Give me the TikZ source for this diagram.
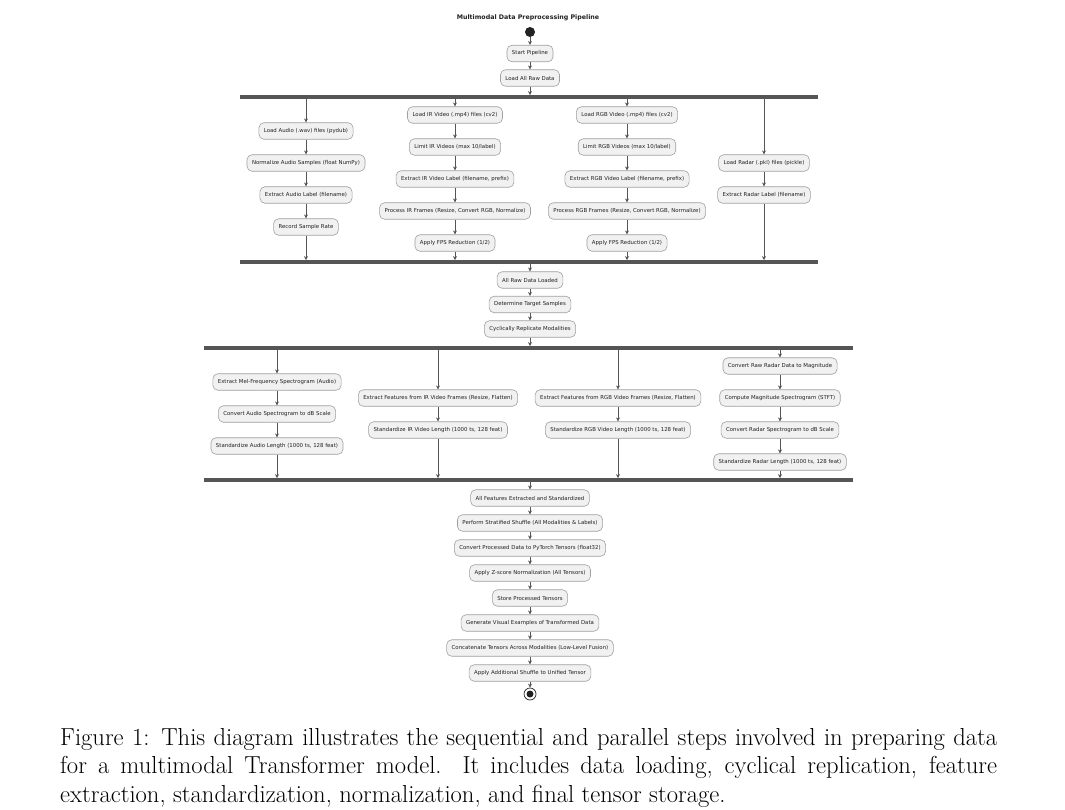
\documentclass[tikz,border=0pt]{standalone}
\usepackage{fontspec}
\newfontfamily\djsans{DejaVu Sans}
\usetikzlibrary{arrows.meta}
\definecolor{boxfill}{HTML}{F1F1F1}
\definecolor{boxline}{HTML}{A0A0A0}
\definecolor{linec}{HTML}{555555}
\definecolor{barc}{HTML}{555555}
\definecolor{txt}{HTML}{222222}
\definecolor{startc}{HTML}{222222}
\begin{document}
\begin{tikzpicture}[x=1pt,y=-1pt,
  box/.style={draw=boxline, fill=boxfill, line width=0.6pt, rounded corners=5pt, minimum height=16.5pt, inner xsep=5pt, inner ysep=2pt, font=\djsans\fontsize{5.4}{6.5}\selectfont, text=txt},
  bar/.style={fill=barc, draw=none, minimum height=3.5pt, inner sep=0pt},
  arr/.style={draw=linec, line width=0.6pt, -{Stealth[length=4pt,width=4pt]}},
  ln/.style={draw=linec, line width=0.6pt}]
\useasboundingbox (0,0) rectangle (1065,810);
\fill[white] (0,0) rectangle (1065,810);

\node[font=\djsans\bfseries\fontsize{6.3}{7.5}\selectfont, text=txt] (title) at (528,18) {Multimodal Data Preprocessing Pipeline};
\node[circle, fill=startc, minimum size=10pt, inner sep=0pt] (start) at (530,32) {};
\node[box] (s1) at (530,53.5) {Start Pipeline};
\node[box] (s2) at (530,78) {Load All Raw Data};
\node[bar, minimum width=578pt] (f1) at (529,97) {};

% first fork
\node[box] (a1) at (306,131) {Load Audio (.wav) files (pydub)};
\node[box] (a2) at (306,163) {Normalize Audio Samples (float NumPy)};
\node[box] (a3) at (306,195) {Extract Audio Label (filename)};
\node[box] (a4) at (306,227) {Record Sample Rate};

\node[box] (i1) at (455,115) {Load IR Video (.mp4) files (cv2)};
\node[box] (i2) at (455,147) {Limit IR Videos (max 10/label)};
\node[box] (i3) at (455,179) {Extract IR Video Label (filename, prefix)};
\node[box] (i4) at (455,211) {Process IR Frames (Resize, Convert RGB, Normalize)};
\node[box] (i5) at (455,243) {Apply FPS Reduction (1/2)};

\node[box] (r1) at (627,115) {Load RGB Video (.mp4) files (cv2)};
\node[box] (r2) at (627,147) {Limit RGB Videos (max 10/label)};
\node[box] (r3) at (627,179) {Extract RGB Video Label (filename, prefix)};
\node[box] (r4) at (627,211) {Process RGB Frames (Resize, Convert RGB, Normalize)};
\node[box] (r5) at (627,243) {Apply FPS Reduction (1/2)};

\node[box] (d1) at (764,163) {Load Radar (.pkl) files (pickle)};
\node[box] (d2) at (764,195) {Extract Radar Label (filename)};

\node[bar, minimum width=578pt] (j1) at (529,262) {};

\node[box] (m1) at (530,280) {All Raw Data Loaded};
\node[box] (m2) at (530,304.5) {Determine Target Samples};
\node[box] (m3) at (530,329) {Cyclically Replicate Modalities};

\node[bar, minimum width=649pt] (f2) at (528.5,348) {};

% second fork
\node[box] (b1) at (277,382) {Extract Mel-Frequency Spectrogram (Audio)};
\node[box] (b2) at (277,414) {Convert Audio Spectrogram to dB Scale};
\node[box] (b3) at (277,446) {Standardize Audio Length (1000 ts, 128 feat)};

\node[box] (c1) at (438,398) {Extract Features from IR Video Frames (Resize, Flatten)};
\node[box] (c2) at (438,430) {Standardize IR Video Length (1000 ts, 128 feat)};

\node[box] (e1) at (618,398) {Extract Features from RGB Video Frames (Resize, Flatten)};
\node[box] (e2) at (618,430) {Standardize RGB Video Length (1000 ts, 128 feat)};

\node[box] (g1) at (780,366) {Convert Raw Radar Data to Magnitude};
\node[box] (g2) at (780,398) {Compute Magnitude Spectrogram (STFT)};
\node[box] (g3) at (780,430) {Convert Radar Spectrogram to dB Scale};
\node[box] (g4) at (780,462) {Standardize Radar Length (1000 ts, 128 feat)};

\node[bar, minimum width=649pt] (j2) at (528.5,480) {};

\node[box] (n1) at (530,498) {All Features Extracted and Standardized};
\node[box] (n2) at (530,523) {Perform Stratified Shuffle (All Modalities \& Labels)};
\node[box] (n3) at (530,548) {Convert Processed Data to PyTorch Tensors (float32)};
\node[box] (n4) at (530,573) {Apply Z-score Normalization (All Tensors)};
\node[box] (n5) at (530,598) {Store Processed Tensors};
\node[box] (n6) at (530,623) {Generate Visual Examples of Transformed Data};
\node[box] (n7) at (530,648) {Concatenate Tensors Across Modalities (Low-Level Fusion)};
\node[box] (n8) at (530,673) {Apply Additional Shuffle to Unified Tensor};

\node[circle, draw=startc, fill=white, line width=0.7pt, minimum size=12pt, inner sep=0pt] (stop) at (530,694) {};
\node[circle, fill=startc, minimum size=7pt, inner sep=0pt] (stopin) at (stop) {};

% connectors
\draw[arr] (start) -- (s1);
\draw[arr] (s1) -- (s2);
\draw[arr] (s2.south) -- (s2.south |- f1.north);

\foreach \c in {a1,i1,r1,d1} \draw[arr] (f1.south -| \c) -- (\c);
\draw[arr] (a1) -- (a2); \draw[arr] (a2) -- (a3); \draw[arr] (a3) -- (a4);
\draw[arr] (i1) -- (i2); \draw[arr] (i2) -- (i3); \draw[arr] (i3) -- (i4); \draw[arr] (i4) -- (i5);
\draw[arr] (r1) -- (r2); \draw[arr] (r2) -- (r3); \draw[arr] (r3) -- (r4); \draw[arr] (r4) -- (r5);
\draw[arr] (d1) -- (d2);
\foreach \c in {a4,i5,r5,d2} \draw[arr] (\c.south) -- (\c.south |- j1.north);

\draw[arr] (j1.south -| m1) -- (m1);
\draw[arr] (m1) -- (m2);
\draw[arr] (m2) -- (m3);
\draw[arr] (m3.south) -- (m3.south |- f2.north);

\foreach \c in {b1,c1,e1,g1} \draw[arr] (f2.south -| \c) -- (\c);
\draw[arr] (b1) -- (b2); \draw[arr] (b2) -- (b3);
\draw[arr] (c1) -- (c2);
\draw[arr] (e1) -- (e2);
\draw[arr] (g1) -- (g2); \draw[arr] (g2) -- (g3); \draw[arr] (g3) -- (g4);
\foreach \c in {b3,c2,e2,g4} \draw[arr] (\c.south) -- (\c.south |- j2.north);

\draw[arr] (j2.south -| n1) -- (n1);
\draw[arr] (n1) -- (n2); \draw[arr] (n2) -- (n3); \draw[arr] (n3) -- (n4);
\draw[arr] (n4) -- (n5); \draw[arr] (n5) -- (n6); \draw[arr] (n6) -- (n7);
\draw[arr] (n7) -- (n8);
\draw[arr] (n8) -- (stop);

\node[anchor=north west, text width=937pt, align=justify, inner sep=0pt, font=\fontsize{24.6}{28.4}\selectfont] (cap) at (60,728) {Figure 1: This diagram illustrates the sequential and parallel steps involved in preparing data\linebreak for a multimodal Transformer model.  It includes data loading, cyclical replication, feature\linebreak extraction, standardization, normalization, and final tensor storage.};
\end{tikzpicture}
\end{document}
